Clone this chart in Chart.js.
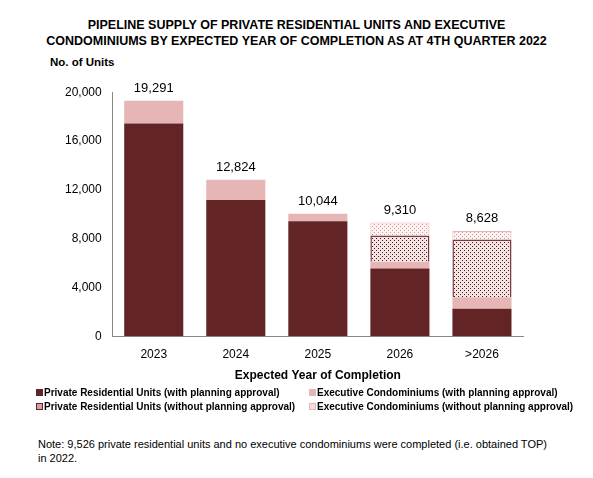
<!DOCTYPE html><html><head><meta charset="utf-8">
<script src="https://cdn.jsdelivr.net/npm/chart.js@4"></script>
<style>
body{margin:0;width:593px;height:478px;background:#fff;font-family:"Liberation Sans",Arial,sans-serif;position:relative;color:#000}
#t{position:absolute;top:17px;left:0;width:593px;text-align:center;font-weight:bold;font-size:12.5px;line-height:16px}
#yl{position:absolute;top:56px;left:50px;font-weight:bold;font-size:11.5px}
#c{position:absolute;top:82px;left:0}
#lg{position:absolute;top:386px;left:36px;font-weight:bold;font-size:10px;line-height:13.5px}
#lg div{position:absolute;white-space:nowrap}
#lg span{display:inline-block;width:7px;height:7px;margin-right:1px;vertical-align:0px}
#note{position:absolute;top:437px;left:38px;font-size:11px;line-height:14px;width:520px}
</style></head><body>
<div id="t">PIPELINE SUPPLY OF PRIVATE RESIDENTIAL UNITS AND EXECUTIVE<br>CONDOMINIUMS BY EXPECTED YEAR OF COMPLETION AS AT 4TH QUARTER 2022</div>
<div id="yl">No. of Units</div>
<canvas id="c" width="593" height="305"></canvas>
<div id="lg">
<div style="left:0;top:0"><span style="background:#632426"></span>Private Residential Units (with planning approval)</div>
<div style="left:273px;top:0"><span style="background:#e6b5b5"></span>Executive Condominiums (with planning approval)</div>
<div style="left:0;top:14px"><span style="background:#d9a0a0;border:1px solid #632426;width:5px;height:5px"></span>Private Residential Units (without planning approval)</div>
<div style="left:273px;top:14px"><span style="background:#f5dede;border:1px solid #e6b5b5;width:5px;height:5px"></span>Executive Condominiums (without planning approval)</div>
</div>
<div id="note">Note: 9,526 private residential units and no executive condominiums were completed (i.e. obtained TOP) in 2022.</div>
<script>
const categories=["2023","2024","2025","2026",">2026"];
const privateWith=[17440,11160,9420,5550,2260];
const ecWith=[1851,1664,624,550,940];
const privateWithout=[0,0,0,2160,4730];
const ecWithout=[0,0,0,1050,698];
const totals=["19,291","12,824","10,044","9,310","8,628"];
const yTicks=[0,4000,8000,12000,16000,20000];
function pat(bg,dot){const c=document.createElement('canvas');c.width=4;c.height=4;const x=c.getContext('2d');x.fillStyle=bg;x.fillRect(0,0,4,4);x.fillStyle=dot;x.fillRect(0,0,1,1);x.fillRect(2,2,1,1);return x.createPattern(c,'repeat');}
const labelPlugin={id:'lbl',afterDatasetsDraw(ch){
  const ctx=ch.ctx;ctx.save();ctx.font='13px "Liberation Sans",Arial';ctx.fillStyle='#000';ctx.textAlign='center';ctx.textBaseline='bottom';
  const n=ch.data.datasets.length;
  categories.forEach((c,i)=>{
    let top=Infinity,x=0;
    for(let d=0;d<n;d++){const m=ch.getDatasetMeta(d).data[i];if(ch.data.datasets[d].data[i]>0){top=Math.min(top,m.y);x=m.x;}}
    ctx.fillText(totals[i],x,top-6);
  });
  ctx.restore();
}};
new Chart(document.getElementById('c'),{
  type:'bar',
  data:{labels:categories,datasets:[
    {data:privateWith,backgroundColor:'#632426'},
    {data:ecWith,backgroundColor:'#e6b5b5'},
    {data:privateWithout,backgroundColor:pat('#f3e3e3','#4a1618'),borderColor:'#7a3a3c',borderWidth:1.5},
    {data:ecWithout,backgroundColor:pat('#fbf1f1','#d99a9a'),borderColor:'#e6b5b5',borderWidth:1}
  ]},
  options:{
    animation:false,responsive:false,devicePixelRatio:1,
    layout:{padding:{left:62,right:70,top:10}},
    plugins:{legend:{display:false},tooltip:{enabled:false}},
    scales:{
      x:{stacked:true,categoryPercentage:1,barPercentage:0.58,grid:{display:false},border:{color:'#888'},
        ticks:{color:'#000',font:{size:12,family:'Liberation Sans'}},
        title:{display:true,text:'Expected Year of Completion',color:'#000',font:{size:12,weight:'bold',family:'Liberation Sans'},padding:{top:4}}},
      y:{stacked:true,min:0,max:20000,afterBuildTicks(a){a.ticks=yTicks.map(v=>({value:v}));},grid:{display:false},border:{color:'#888'},
        ticks:{color:'#000',font:{size:12,family:'Liberation Sans'},callback:v=>v.toLocaleString('en-US')}}
    }
  },
  plugins:[labelPlugin]
});
</script>
</body></html>
